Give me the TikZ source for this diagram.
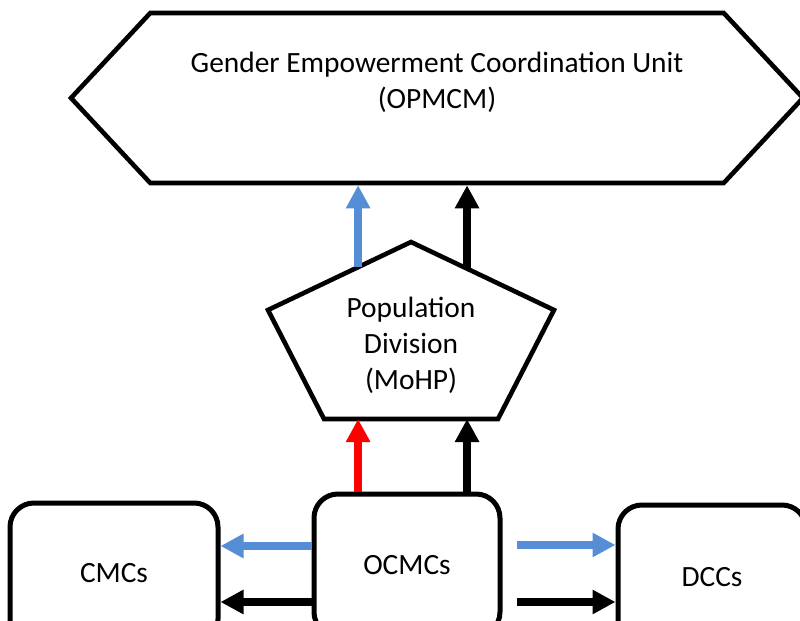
\documentclass[tikz,border=0pt]{standalone}
\usepackage{fontspec}
\setmainfont{Carlito}
\usetikzlibrary{arrows.meta,shapes.symbols,calc}
\definecolor{flowblue}{RGB}{85,142,213}

\begin{document}
\begin{tikzpicture}[x=0.5pt, y=-0.5pt,
    font=\fontsize{14.7}{18}\selectfont,
    outline/.style={draw, line width=2.3pt, fill=white, line join=miter},
    unit/.style={outline, align=center},
    hex/.style={unit, signal, signal to=west and east, signal pointer angle=94,
        minimum width=366pt, minimum height=85pt},
    box/.style={unit, rounded corners=12pt, line width=2.5pt},
    flow/.style={line width=4pt, -{Triangle[width=11.5pt,length=11.5pt]}}]
    \useasboundingbox (0,0) rectangle (800,621);
    \clip (0,0) rectangle (800,621);

    % top unit
    \node[hex] (geu) at (437,98) {Gender Empowerment Coordination Unit\\(OPMCM)\\~};

    % pentagon
    \coordinate (pt) at (411,242);
    \coordinate (pr) at (554,310);
    \coordinate (pbr) at (498,419);
    \coordinate (pbl) at (324,419);
    \coordinate (pl) at (268,310);
    \draw[outline] (pt) -- (pr) -- (pbr) -- (pbl) -- (pl) -- cycle;
    \node[align=center] (pd) at (411,345) {Population\\Division\\(MoHP)};
    \coordinate (pdl) at ($(pl)!0.63!(pt)$);
    \coordinate (pdr) at ($(pt)!0.392!(pr)$);

    % bottom row
    \node[box, minimum width=104pt, minimum height=70pt] (cmc) at (114,573) {CMCs};
    \node[box, minimum width=93pt, minimum height=71pt] (ocmc) at (407,565) {OCMCs};
    \node[box, minimum width=94pt, minimum height=72pt] (dcc) at (712,577) {DCCs};

    \coordinate (lb) at ([yshift=9.5pt]ocmc.west);
    \coordinate (lk) at ([yshift=-18.5pt]ocmc.west);
    \coordinate (rb) at ([xshift=7pt,yshift=10pt]ocmc.east);
    \coordinate (rk) at ([xshift=7pt,yshift=-18.5pt]ocmc.east);

    \path[flow, flowblue]
        (pdl) edge (pdl |- geu.south)
        (lb) edge (lb -| cmc.east)
        (rb) edge (rb -| dcc.west);
    \path[flow, black]
        (pdr) edge (pdr |- geu.south)
        (ocmc.north -| pdr) edge (pdr |- pbl)
        (lk) edge (lk -| cmc.east)
        (rk) edge (rk -| dcc.west);
    \path[flow, red]
        (ocmc.north -| pdl) edge (pdl |- pbl);
\end{tikzpicture}
\end{document}
